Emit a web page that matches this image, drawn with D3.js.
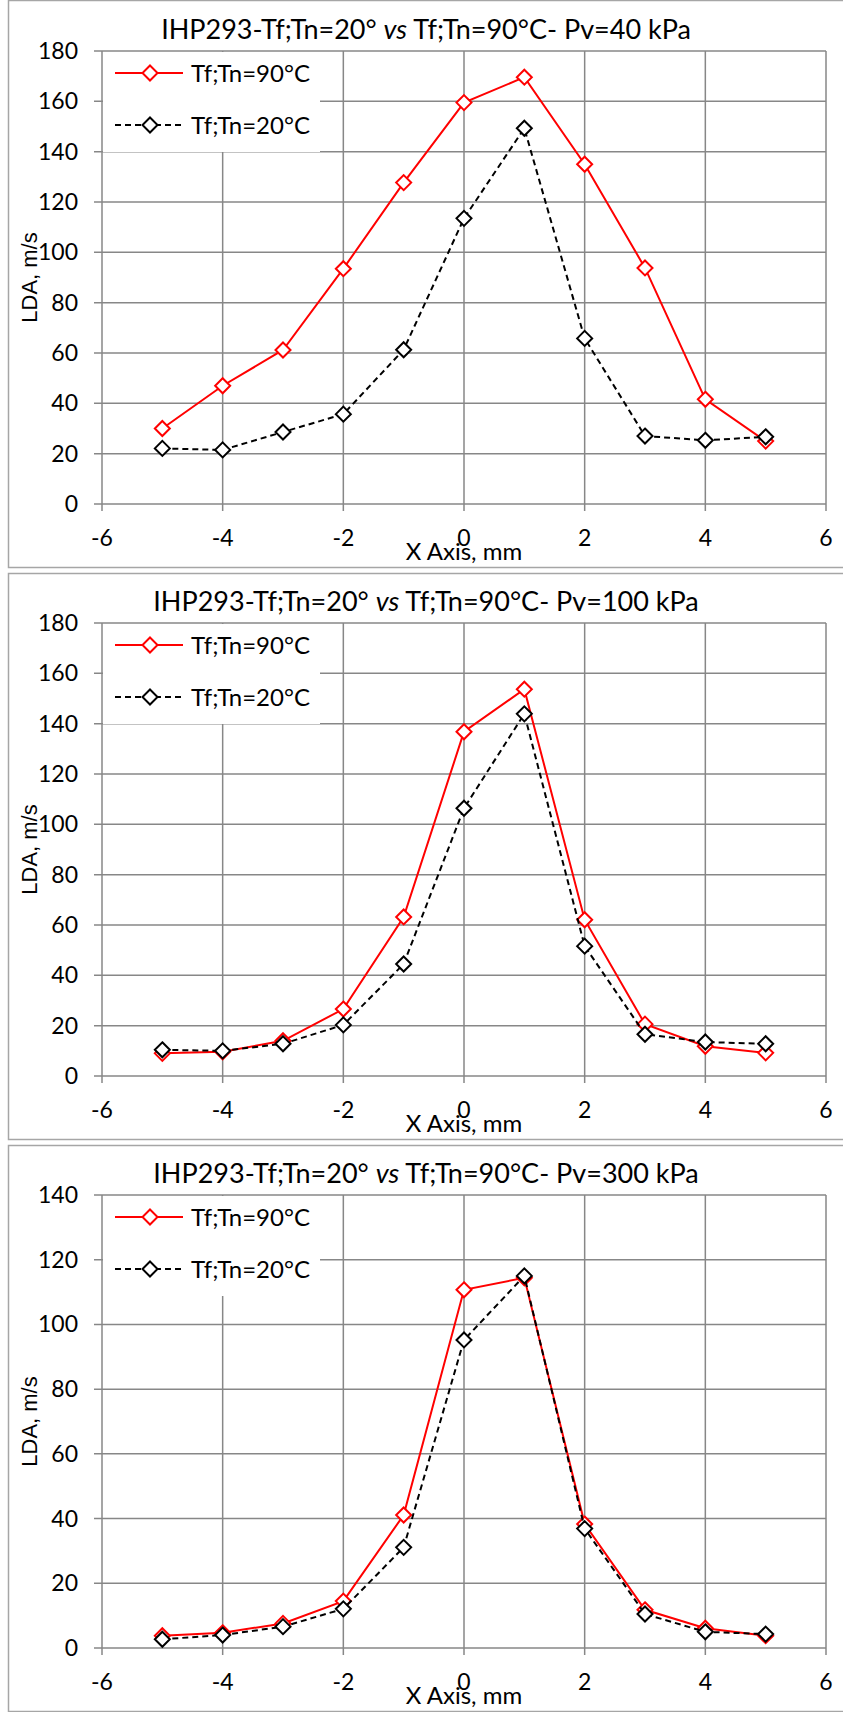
<!DOCTYPE html>
<html>
<head>
<meta charset="utf-8">
<script src="https://cdnjs.cloudflare.com/ajax/libs/d3/7.8.5/d3.min.js"></script>
<style>
  body { margin: 0; background: #fff; }
  svg { display: block; }
  text { font-family: Lato, "Open Sans", sans-serif; fill: #000; }
</style>
</head>
<body>
<svg id="chart" width="843" height="1712"></svg>
<script>
// x positions (mm)
const xPos = [-5, -4, -3, -2, -1, 0, 1, 2, 3, 4, 5];

// Pv = 40 kPa
const hot40  = [30, 47, 61.2, 93.5, 127.7, 159.5, 169.6, 135, 93.8, 41.6, 25];
const cold40 = [22.1, 21.5, 28.6, 35.7, 61.3, 113.5, 149.3, 65.8, 27, 25.3, 26.7];

// Pv = 100 kPa
const hot100  = [9, 9.6, 14, 26.6, 63.2, 136.8, 153.7, 62.1, 20.6, 11.8, 9.2];
const cold100 = [10.4, 10, 12.8, 20.3, 44.5, 106.4, 143.9, 51.6, 16.6, 13.5, 12.8];

// Pv = 300 kPa
const hot300  = [3.8, 4.7, 7.6, 14.5, 41.1, 110.7, 114.4, 38.3, 11.8, 6.1, 3.8];
const cold300 = [2.7, 4, 6.6, 12.1, 31.1, 95.2, 115, 36.9, 10.5, 5, 4.3];

const xTicks = [-6, -4, -2, 0, 2, 4, 6];
const yTicks180 = [0, 20, 40, 60, 80, 100, 120, 140, 160, 180];
const yTicks140 = [0, 20, 40, 60, 80, 100, 120, 140];

const seriesNames = ["Tf;Tn=90°C", "Tf;Tn=20°C"];
const pressures = ["40", "100", "300"];

const panels = [
    { pv: pressures[0], hot: hot40,  cold: cold40,  yTicks: yTicks180 },
    { pv: pressures[1], hot: hot100, cold: cold100, yTicks: yTicks180 },
    { pv: pressures[2], hot: hot300, cold: cold300, yTicks: yTicks140 }
];

const svg = d3.select("#chart");
const gridColor = "#878787";
const panelH = 572;
const plot = { left: 102, right: 826, top: 51, bottom: 504 };

function diamond(sel, color) {
    sel.attr("d", "M0,-7.5L7.5,0L0,7.5L-7.5,0Z")
        .attr("fill", "#fff")
        .attr("stroke", color)
        .attr("stroke-width", 2);
}

function drawPanel(p, i) {
    const g = svg.append("g").attr("transform", `translate(0, ${i * panelH})`);

    // outer frame
    g.append("rect")
        .attr("x", 8.5).attr("y", i === 0 ? 0.5 : 1.5)
        .attr("width", 850).attr("height", i === 0 ? 567 : 566)
        .attr("fill", "#fff")
        .attr("stroke", "#a6a6a6")
        .attr("stroke-width", 1.5);

    const x = d3.scaleLinear().domain([-6, 6]).range([plot.left, plot.right]);
    const y = d3.scaleLinear().domain([0, d3.max(p.yTicks)]).range([plot.bottom, plot.top]);

    // gridlines
    g.append("g").selectAll("line").data(p.yTicks).join("line")
        .attr("x1", plot.left - 8).attr("x2", plot.right)
        .attr("y1", d => y(d)).attr("y2", d => y(d))
        .attr("stroke", gridColor).attr("stroke-width", 1.5);
    g.append("g").selectAll("line").data(xTicks).join("line")
        .attr("x1", d => x(d)).attr("x2", d => x(d))
        .attr("y1", plot.top).attr("y2", plot.bottom + 7)
        .attr("stroke", gridColor).attr("stroke-width", 1.5);

    // tick labels
    g.append("g").selectAll("text").data(p.yTicks).join("text")
        .attr("x", 78).attr("y", d => y(d) + 8)
        .attr("text-anchor", "end")
        .style("font-size", "23px")
        .text(d => d);
    g.append("g").selectAll("text").data(xTicks).join("text")
        .attr("x", d => x(d)).attr("y", 546)
        .attr("text-anchor", "middle")
        .style("font-size", "23px")
        .text(d => d);

    // axis titles
    g.append("text")
        .attr("x", (plot.left + plot.right) / 2).attr("y", 560)
        .attr("text-anchor", "middle")
        .style("font-size", "24px")
        .text("X Axis, mm");
    g.append("text")
        .attr("transform", `translate(37, ${(plot.top + plot.bottom) / 2}) rotate(-90)`)
        .attr("text-anchor", "middle")
        .style("font-family", "'Liberation Sans', Arial, sans-serif")
        .style("font-size", "22px")
        .text("LDA, m/s");

    // title
    const t = g.append("text")
        .attr("x", 426).attr("y", 39)
        .attr("text-anchor", "middle")
        .style("font-size", "27px");
    t.append("tspan").text("IHP293-Tf;Tn=20° ");
    t.append("tspan").style("font-style", "italic").text("vs");
    t.append("tspan").text(` Tf;Tn=90°C- Pv=${p.pv} kPa`);

    // legend box (covers grid)
    g.append("rect")
        .attr("x", plot.left + 1).attr("y", plot.top + 1)
        .attr("width", 217).attr("height", 100)
        .attr("fill", "#fff");

    const line = d3.line().x((d, k) => x(xPos[k])).y(d => y(d));
    const series = [
        { name: seriesNames[0], vals: p.hot, color: "#ff0000", dash: null },
        { name: seriesNames[1], vals: p.cold, color: "#000", dash: "6,4" }
    ];

    series.forEach((s, k) => {
        g.append("path")
            .attr("d", line(s.vals))
            .attr("fill", "none")
            .attr("stroke", s.color)
            .attr("stroke-width", 2)
            .attr("stroke-dasharray", s.dash);
        g.append("g").selectAll("path").data(s.vals).join("path")
            .attr("transform", (d, j) => `translate(${x(xPos[j])}, ${y(d)})`)
            .call(diamond, s.color);

        // legend entry
        const ly = plot.top + 22 + k * 52;
        g.append("line")
            .attr("x1", 115).attr("x2", 183)
            .attr("y1", ly).attr("y2", ly)
            .attr("stroke", s.color)
            .attr("stroke-width", 2)
            .attr("stroke-dasharray", s.dash);
        g.append("path")
            .attr("transform", `translate(150, ${ly})`)
            .call(diamond, s.color);
        g.append("text")
            .attr("x", 191).attr("y", ly + 9)
            .style("font-size", "24px")
            .text(s.name);
    });
}

panels.forEach(drawPanel);
</script>
</body>
</html>
